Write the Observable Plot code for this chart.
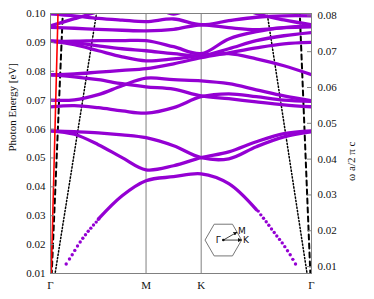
<!DOCTYPE html>
<html><head><meta charset="utf-8">
<script src="https://cdn.jsdelivr.net/npm/d3@7"></script>
<script src="https://cdn.jsdelivr.net/npm/@observablehq/plot@0.6"></script>
<style>body{margin:0;background:#fff} svg{display:block}</style>
</head><body><div id="chart"></div>
<script>
// k-path coordinate (units of 2π/a): Γ → M → K → Γ
const kPath = [0, 0.1443, 0.2887, 0.4330, 0.5774, 0.7440, 0.9107, 1.0774, 1.2440, 1.4107, 1.5774];
const kTicks = [0, 0.5774, 0.9107, 1.5774];
const kTickLabels = ["Γ", "M", "K", "Γ"];
const energyTicks = [0.01, 0.02, 0.03, 0.04, 0.05, 0.06, 0.07, 0.08, 0.09, 0.10];
const omegaTicks = [0.01, 0.02, 0.03, 0.04, 0.05, 0.06, 0.07, 0.08];
const eVPerOmega = 1.2398;

// photonic bands, photon energy [eV] at kPath
const bandT1  = [0.0999, 0.0992, 0.0983, 0.0977, 0.0972, 0.0981, 0.0961, 0.0975, 0.0987, 0.0992, 0.0992];
const bandT2  = [0.0952, 0.0949, 0.0945, 0.0942, 0.0940, 0.0945, 0.0961, 0.0951, 0.0944, 0.0951, 0.0954];
const bandTX  = [0.0957, 0.0982, 0.1006, 0.1027, 0.1040, 0.0998, 0.1040, 0.1040, 0.1000, 0.0978, 0.0961];
const band40a = [0.0904, 0.0904, 0.0906, 0.0906, 0.0906, 0.0885, 0.0861, 0.0912, 0.0937, 0.0951, 0.0957];
const band40b = [0.0904, 0.0899, 0.0888, 0.0878, 0.0871, 0.0861, 0.0854, 0.0878, 0.0906, 0.0923, 0.0934];
const band40c = [0.0904, 0.0892, 0.0871, 0.0850, 0.0836, 0.0843, 0.0854, 0.0861, 0.0843, 0.0819, 0.0788];
const band74a = [0.0788, 0.0791, 0.0797, 0.0803, 0.0809, 0.0826, 0.0847, 0.0864, 0.0881, 0.0895, 0.0900];
const band74b = [0.0788, 0.0781, 0.0771, 0.0757, 0.0746, 0.0738, 0.0715, 0.0705, 0.0694, 0.0684, 0.0677];
const band70  = [0.0700, 0.0701, 0.0719, 0.0750, 0.0776, 0.0771, 0.0767, 0.0757, 0.0736, 0.0715, 0.0698];
const band68  = [0.0677, 0.0681, 0.0674, 0.0663, 0.0655, 0.0674, 0.0712, 0.0722, 0.0712, 0.0700, 0.0696];
const band59a = [0.0594, 0.0591, 0.0587, 0.0580, 0.0570, 0.0542, 0.0501, 0.0497, 0.0539, 0.0573, 0.0591];
const band59b = [0.0594, 0.0582, 0.0546, 0.0501, 0.0459, 0.0473, 0.0501, 0.0521, 0.0556, 0.0584, 0.0594];
// lowest band: continuous part (kPath index 2..8)
const band1 = [null, null, 0.0288, 0.0369, 0.0421, 0.0435, 0.0445, 0.0411, 0.0321, null, null];
// lowest band: separate sample dots near Γ
const band1DotsK = [0.0949, 0.1148, 0.1312, 0.1469, 0.1632, 0.1795, 0.1952, 0.2115, 0.2279, 0.2436, 0.2599, 0.2762, 0.2919,
  1.2554, 1.2711, 1.2874, 1.3037, 1.3194, 1.3357, 1.3520, 1.3678, 1.3841, 1.4004, 1.4161, 1.4324, 1.4487, 1.4645, 1.4808];
const band1DotsE = [0.0133, 0.0150, 0.0165, 0.0180, 0.0195, 0.0209, 0.0222, 0.0234, 0.0246, 0.0257, 0.0268, 0.0278, 0.0289,
  0.0316, 0.0303, 0.0291, 0.0279, 0.0267, 0.0254, 0.0242, 0.0230, 0.0218, 0.0206, 0.0193, 0.0179, 0.0165, 0.0149, 0.0133];

// light lines: |k| reached at E = 0.1 eV (left side, right side)
const lightNames = ["red", "dashed", "dotted"];
const lightKLeft = [0.0453, 0.0743, 0.278];
const lightKRight = [null, 0.0707, 0.268];

const bandList = [bandT1, bandT2, bandTX, band40a, band40b, band40c, band74a, band74b, band70, band68, band59a, band59b, band1];
const bandRows = bandList.flatMap((b, i) => b.map((e, j) => ({band: i, k: kPath[j], e})));
const dotRows = band1DotsK.map((k, i) => ({k, e: band1DotsE[i]}));
const kEnd = kPath[kPath.length - 1];
const lightRows = [];
lightNames.forEach((n, i) => {
  lightRows.push({name: n + "L", style: n, k: 0, e: 0}, {name: n + "L", style: n, k: lightKLeft[i], e: 0.1});
  if (lightKRight[i] != null) lightRows.push({name: n + "R", style: n, k: kEnd, e: 0}, {name: n + "R", style: n, k: kEnd - lightKRight[i], e: 0.1});
});

const purple = "#9400d3";
const gray = "#808080";
const font = "Liberation Serif, Times New Roman, serif";

const plot = Plot.plot({
  width: 374, height: 299,
  marginLeft: 50, marginRight: 63, marginTop: 13, marginBottom: 26,
  style: {fontFamily: font, fontSize: "11px", color: "#111", background: "#fff"},
  x: {domain: [0, kEnd], axis: null},
  y: {domain: [0.01, 0.10], axis: null},
  marks: [
    Plot.ruleX([kTicks[1], kTicks[2]], {stroke: gray, strokeWidth: 1}),
    Plot.line(lightRows.filter(d => d.style === "dotted"), {x: "k", y: "e", z: "name", stroke: "#000", strokeWidth: 1.5, strokeDasharray: "1.3,2.1", clip: true}),
    Plot.line(lightRows.filter(d => d.style === "dashed"), {x: "k", y: "e", z: "name", stroke: "#000", strokeWidth: 2, strokeDasharray: "5,4", clip: true}),
    Plot.line(bandRows, {x: "k", y: "e", z: "band", stroke: purple, strokeWidth: 3.3, curve: "catmull-rom", clip: true}),
    Plot.dot(dotRows, {x: "k", y: "e", r: 1.7, fill: purple, stroke: null, clip: true}),
    Plot.line(lightRows.filter(d => d.style === "red"), {x: "k", y: "e", z: "name", stroke: "#ff0000", strokeWidth: 1.6, clip: true}),
    Plot.tickY(energyTicks, {y: d => d, stroke: gray, insetRight: 257}),
    Plot.tickY(omegaTicks, {y: d => d * eVPerOmega, stroke: gray, insetLeft: 257}),
    Plot.axisY(energyTicks, {anchor: "left", label: null, tickSize: 0, tickPadding: 5, tickFormat: d3.format(".2f"), fontSize: 11}),
    Plot.axisY(omegaTicks, {anchor: "right", label: null, y: d => d * eVPerOmega, tickSize: 0, tickPadding: 6, tickFormat: d => d3.format(".2f")(d), fontSize: 11}),
    Plot.axisX(kTicks, {anchor: "bottom", label: null, tickSize: 0, tickPadding: 8, tickFormat: (d, i) => kTickLabels[i], fontSize: 11}),
    Plot.frame({stroke: gray, strokeWidth: 1}),
    Plot.text(["Photon Energy [eV]"], {frameAnchor: "left", rotate: -90, dx: -38, dy: 8, fontSize: 11}),
    Plot.text(["ω a/2 π c"], {frameAnchor: "right", rotate: -90, dx: 40, dy: -2, fontSize: 11})
  ]
});

// Brillouin-zone inset
const sx = plot.scale("x"), sy = plot.scale("y");
const insetK = 1.0475, insetE = 0.0214, R = 18.3;
const cx = sx.apply(insetK), cy = sy.apply(insetE);
const svg = d3.select(plot);
const g = svg.append("g");
const hex = d3.range(6).map(i => [cx + R * Math.cos(i * Math.PI / 3), cy + R * Math.sin(i * Math.PI / 3)]);
g.append("polygon").attr("points", hex.map(p => p.join(",")).join(" ")).attr("fill", "none").attr("stroke", "#666").attr("stroke-width", 0.9);
const mPt = [cx + R * 0.866 * 0.866, cy - R * 0.866 * 0.5];
const kPt = [cx + R, cy];
svg.append("defs").html('<marker id="ah" viewBox="0 0 6 6" refX="5.5" refY="3" markerWidth="5" markerHeight="5" orient="auto"><path d="M0,0L6,3L0,6z" fill="#111"/></marker>');
[mPt, kPt].forEach(p => g.append("line").attr("x1", cx).attr("y1", cy).attr("x2", p[0]).attr("y2", p[1]).attr("stroke", "#111").attr("stroke-width", 0.8).attr("marker-end", "url(#ah)"));
g.append("circle").attr("cx", cx).attr("cy", cy).attr("r", 1.3).attr("fill", "#111");
const lab = (t, x, y, a) => g.append("text").attr("x", x).attr("y", y).attr("text-anchor", a).attr("dominant-baseline", "middle").attr("font-family", "DejaVu Sans, sans-serif").attr("font-size", 9).attr("fill", "#111").text(t);
lab("Γ", cx - 2.5, cy + 0.5, "end");
lab("M", mPt[0] + 1, mPt[1] - 0.5, "start");
lab("K", kPt[0] + 1.5, cy + 0.5, "start");

document.getElementById("chart").appendChild(plot);
</script>
</body></html>
